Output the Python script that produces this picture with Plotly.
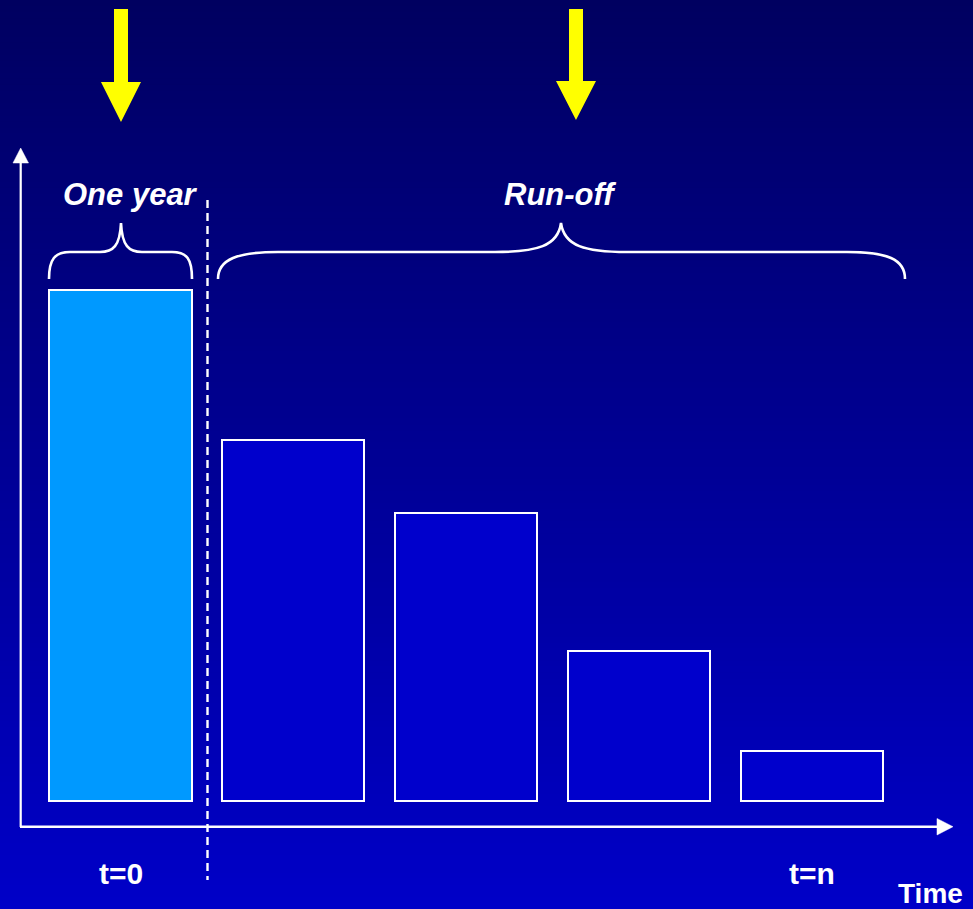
import plotly.graph_objects as go

# ---- data ----
periods = [0, 1, 2, 3, 4]
values = [100, 70.6, 56.4, 29.4, 9.8]
bar_colors = ["#0099FF", "#0000CC", "#0000CC", "#0000CC", "#0000CC"]
tick_labels = {0: "t=0", 4: "t=n"}
brace_labels = ["One year", "Run-off"]
axis_title = "Time"

W, H = 973, 909


def px(x):
    return x / W


def py(y):
    return 1 - y / H


def path(points_cmds):
    out = []
    for cmd, pts in points_cmds:
        s = cmd + " " + " ".join(f"{px(x):.5f},{py(y):.5f}" for x, y in pts)
        out.append(s)
    return " ".join(out)


fig = go.Figure()

fig.add_trace(go.Bar(
    x=periods, y=values, width=0.824,
    marker=dict(color=bar_colors, line=dict(color="white", width=2)),
    hoverinfo="skip",
))

shapes = []
# background gradient
N = 150
top = (0, 0, 96)
bot = (0, 0, 200)
for i in range(N):
    t = (i + 0.5) / N
    c = tuple(round(top[k] + (bot[k] - top[k]) * t) for k in range(3))
    shapes.append(dict(type="rect", xref="paper", yref="paper",
                       x0=0, x1=1, y0=1 - (i + 1) / N - 0.001, y1=1 - i / N,
                       fillcolor=f"rgb{c}", line=dict(width=0), layer="below"))

white = "white"
# y axis arrow
shapes.append(dict(type="line", xref="paper", yref="paper",
                   x0=px(20.7), x1=px(20.7), y0=py(827), y1=py(160),
                   line=dict(color=white, width=2.2)))
shapes.append(dict(type="path", xref="paper", yref="paper",
                   path=path([("M", [(13, 163)]), ("L", [(20.7, 148)]), ("L", [(28.5, 163)])]) + " Z",
                   fillcolor=white, line=dict(color=white, width=0.5)))
# x axis arrow
shapes.append(dict(type="line", xref="paper", yref="paper",
                   x0=px(20), x1=px(940), y0=py(826.7), y1=py(826.7),
                   line=dict(color=white, width=2.6)))
shapes.append(dict(type="path", xref="paper", yref="paper",
                   path=path([("M", [(937, 818.5)]), ("L", [(953, 826.7)]), ("L", [(937, 835)])]) + " Z",
                   fillcolor=white, line=dict(color=white, width=0.5)))
# dashed separator
shapes.append(dict(type="line", xref="paper", yref="paper",
                   x0=px(207.5), x1=px(207.5), y0=py(200), y1=py(880),
                   line=dict(color=white, width=2.4, dash="8px,5px")))

# braces
brace1 = path([
    ("M", [(49, 279)]),
    ("C", [(49, 259), (55, 252), (70, 252)]),
    ("L", [(100, 252)]),
    ("C", [(113, 252), (120, 246), (121, 223)]),
    ("C", [(122, 246), (129, 252), (142, 252)]),
    ("L", [(172, 252)]),
    ("C", [(187, 252), (192, 259), (192, 279)]),
])
brace2 = path([
    ("M", [(218, 279)]),
    ("C", [(218, 259), (238, 252), (278, 252)]),
    ("L", [(495, 252)]),
    ("C", [(537, 252), (558, 246), (561, 223)]),
    ("C", [(564, 246), (585, 252), (627, 252)]),
    ("L", [(847, 252)]),
    ("C", [(887, 252), (905, 259), (905, 279)]),
])
for b in (brace1, brace2):
    shapes.append(dict(type="path", xref="paper", yref="paper", path=b,
                       line=dict(color=white, width=2.6)))

# yellow block arrows
for cx, y0, yh, tip in [(121, 9, 82, 122), (576, 9, 81, 120)]:
    shapes.append(dict(type="path", xref="paper", yref="paper",
                       path=path([("M", [(cx - 7, y0)]), ("L", [(cx + 7, y0)]),
                                  ("L", [(cx + 7, yh)]), ("L", [(cx + 20, yh)]),
                                  ("L", [(cx, tip)]), ("L", [(cx - 20, yh)]),
                                  ("L", [(cx - 7, yh)])]) + " Z",
                       fillcolor="#FFFF00", line=dict(width=0)))

fig.update_layout(shapes=shapes)

font_b = "Liberation Sans, Arial, sans-serif"
ann = []
ann.append(dict(xref="paper", yref="paper", x=px(130), y=py(194), text=f"<b><i>{brace_labels[0]}</i></b>",
                showarrow=False, font=dict(family=font_b, size=31, color=white),
                xanchor="center", yanchor="middle"))
ann.append(dict(xref="paper", yref="paper", x=px(560), y=py(194), text=f"<b><i>{brace_labels[1]}</i></b>",
                showarrow=False, font=dict(family=font_b, size=31, color=white),
                xanchor="center", yanchor="middle"))
for p, lbl in tick_labels.items():
    ann.append(dict(xref="x", yref="paper", x=p, y=py(873), text=f"<b>{lbl}</b>",
                    showarrow=False, font=dict(family=font_b, size=30, color=white),
                    xanchor="center", yanchor="middle"))
ann.append(dict(xref="paper", yref="paper", x=px(896), y=py(893), text=f"<b>{axis_title}</b>",
                showarrow=False, font=dict(family=font_b, size=28, color=white),
                xanchor="left", yanchor="middle"))

fig.update_layout(
    annotations=ann,
    width=W, height=H,
    margin=dict(l=0, r=0, t=0, b=0, pad=0),
    paper_bgcolor="#000090",
    plot_bgcolor="rgba(0,0,0,0)",
    showlegend=False,
    bargap=0,
    xaxis=dict(range=[-0.6973, 4.9334], visible=False, fixedrange=True),
    yaxis=dict(range=[-21.02, 156.7], visible=False, fixedrange=True),
)

fig.write_html("out.html", config={"displayModeBar": False})
